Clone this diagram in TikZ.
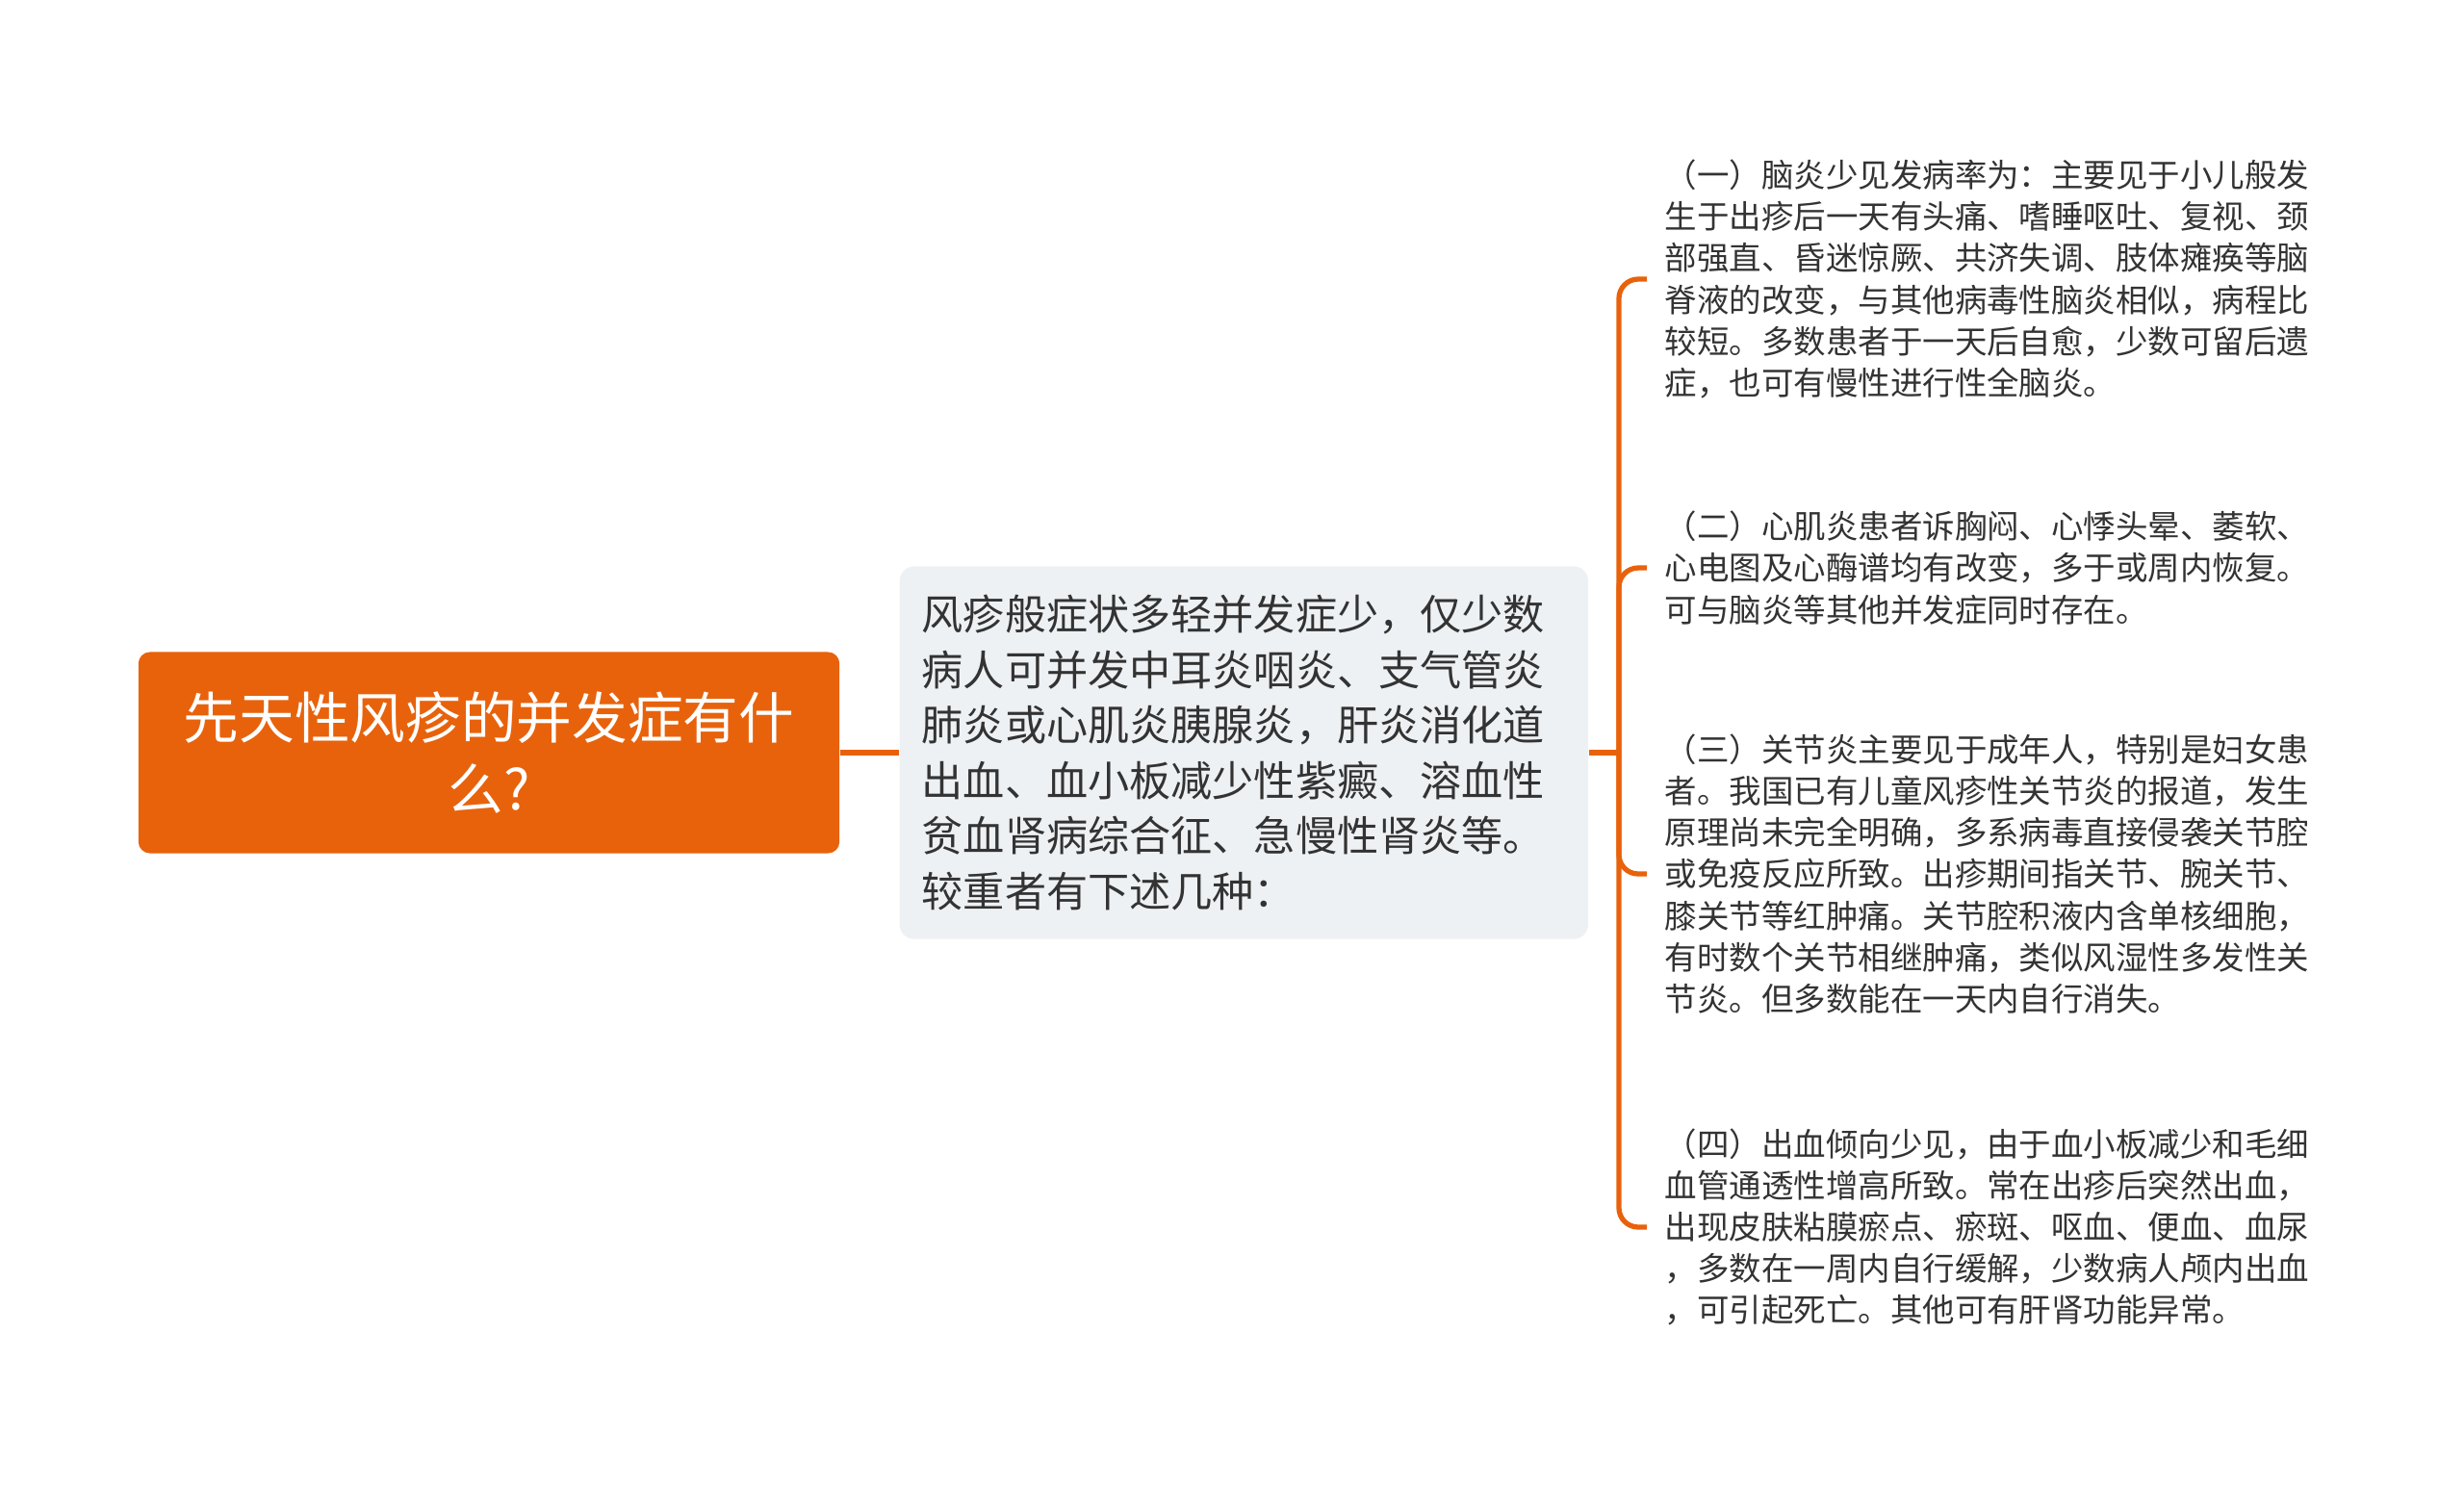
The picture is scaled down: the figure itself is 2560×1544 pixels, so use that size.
\documentclass[tikz,border=0pt]{standalone}
\usepackage{fontspec}
\setmainfont{Noto Sans CJK SC}
\definecolor{branchorange}{HTML}{E8620C}
\definecolor{notegray}{HTML}{EEF1F4}
\definecolor{inkgray}{HTML}{333333}

\begin{document}
\begin{tikzpicture}[x=0.01cm,y=-0.01cm]
		\tikzset{
			link/.style = {draw=branchorange, line width=1.5pt, rounded corners=0.2cm},
			rootbox/.style = {fill=branchorange, text=white, rounded corners=0.12cm, minimum width=7.28cm, minimum height=2.09cm, align=center, font=\fontsize{16.4}{20.9}\selectfont},
			midbox/.style = {fill=notegray, text=inkgray, rounded corners=0.15cm, inner xsep=0.23cm, text width=6.69cm, minimum height=3.87cm, align=left, font=\fontsize{12.27}{16.36}\selectfont},
			leafnote/.style = {anchor=west, text=inkgray, inner xsep=0.18cm, inner ysep=0pt, align=left, font=\fontsize{9.52}{12.27}\selectfont}
		}
		\useasboundingbox (0,0) rectangle (2560,1544);
		\node[rootbox] (Q) at (508,782) {先天性风疹的并发症有什\\么?};
		\node[midbox, anchor=west] (M) at (934,782) {风疹般症状多轻并发症少，仅少数\\病人可并发中耳炎咽炎、支气管炎\\肺炎或心肌炎胰腺炎，肝炎消化道\\出血、血小板减少性紫癜、溶血性\\贫血肾病综合征、急慢性肾炎等。\\较重者有下述几种：};
		\node[leafnote] (C1) at (1711,290) {（一）脑炎少见发病率为：主要见于小儿般发\\生于出疹后一天有头痛、嗜睡呕吐、复视、颈\\部强直、昏迷惊厥、共济失调、肢体瘫痪等脑\\脊液的改变，与其他病毒性脑炎相似，病程比\\较短。多数患者于一天后自愈，少数可留后遗\\症，也可有慢性进行性全脑炎。};
		\node[leafnote] (C2) at (1711,590) {（二）心肌炎患者诉胸闷、心悸头晕、萎软、\\心电图及心酶谱均有改变，多于或周内恢复。\\可与脑炎等其他并发症同时存在。};
		\node[leafnote] (C3) at (1711,908) {（三）关节炎主要见于成年人，特别是妇女患\\者。我国已有儿童风疹性关节炎的报道，发生\\原理尚未完全明确，多系病毒直接侵袭关节腔\\或免疫反应所致。出疹期间指关节、腕关节、\\膝关节等红肿痛。关节腔积液内含单核细胞，\\有时数个关节相继肿痛，类似风湿性多发性关\\节炎。但多数能在一天内自行消失。};
		\node[leafnote] (C4) at (1711,1275) {（四）出血倾向少见，由于血小板减少和毛细\\血管通透性增高所致。常在出疹后突然出血，\\出现皮肤粘膜瘀点、瘀斑、呕血、便血、血尿\\，多数在一周内自行缓解，少数病人颅内出血\\，可引起死亡。其他可有肝肾功能异常。};
		\coordinate (hub) at (1682,782);
		\draw[link] (Q) -- (M);
		\draw[link] (M) -- (hub);
		\foreach \leaf in {C1,C2,C3,C4}
			\draw[link] (hub) |- (\leaf.west);
	\end{tikzpicture}
\end{document}
